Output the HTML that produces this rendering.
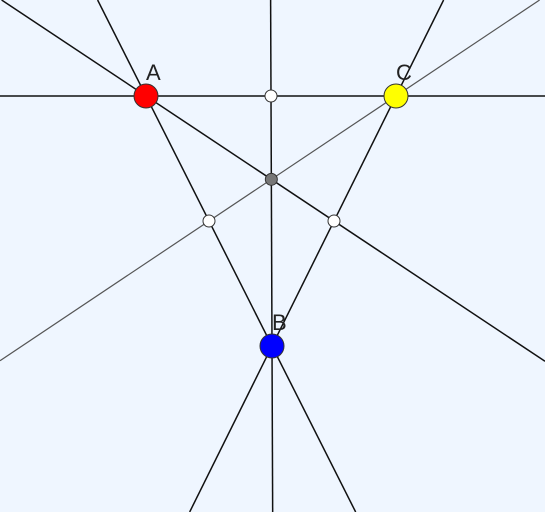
<!DOCTYPE html>
<html><head><meta charset="utf-8"><style>
html,body{margin:0;padding:0;background:#eff6ff;}
svg{display:block}
</style></head><body>
<svg id="fig" width="545" height="512" viewBox="0 0 545 512" font-family="Liberation Sans, sans-serif">
<rect width="545" height="512" fill="#eff6ff"/>
<g id="lines"></g><g id="pts"></g>
</svg>
<script>
const names = ["A","B","C"];
const xs = [146, 272, 396];
const ys = [96, 346, 96];
const colors = ["#ff0000","#0000ff","#ffff00"];
const NS="http://www.w3.org/2000/svg";
const W=545,H=512;
const gL=document.getElementById('lines'), gP=document.getElementById('pts');
function P(i){return [xs[i],ys[i]];}
function mid(i,j){return [(xs[i]+xs[j])/2,(ys[i]+ys[j])/2];}
function clipLine(p,q){
  const dx=q[0]-p[0],dy=q[1]-p[1];let ts=[];
  if(dx!==0){ts.push(-p[0]/dx,(W-p[0])/dx);}
  if(dy!==0){ts.push(-p[1]/dy,(H-p[1])/dy);}
  let pts=ts.map(t=>[p[0]+t*dx,p[1]+t*dy]).filter(a=>a[0]>=-1&&a[0]<=W+1&&a[1]>=-1&&a[1]<=H+1);
  pts.sort((a,b)=>(a[0]-b[0])||(a[1]-b[1]));
  return [pts[0],pts[pts.length-1]];
}
function line(p,q,name,color,w){
  const [a,b]=clipLine(p,q);
  const l=document.createElementNS(NS,'line');
  l.setAttribute('x1',a[0]);l.setAttribute('y1',a[1]);l.setAttribute('x2',b[0]);l.setAttribute('y2',b[1]);
  l.setAttribute('stroke',color);l.setAttribute('stroke-width',w);
  
  
  gL.appendChild(l);
}
line(P(0),P(2),'line-ac','#111',1.5);
line(P(0),P(1),'line-ab','#111',1.5);
line(P(2),P(1),'line-cb','#111',1.5);
line(P(0),mid(1,2),'median-a','#111',1.5);
line(P(2),mid(0,1),'median-c','#555',1.2);
line(P(1),mid(0,2),'median-b','#111',1.5);
function circ(c,r,fill,name){
  const e=document.createElementNS(NS,'circle');
  e.setAttribute('cx',c[0]);e.setAttribute('cy',c[1]);e.setAttribute('r',r);
  e.setAttribute('fill',fill);e.setAttribute('stroke','#333');e.setAttribute('stroke-width',1);
  
  
  gP.appendChild(e);
}
circ(mid(0,2),6,'#fff','midpoint-ac');
circ(mid(0,1),6,'#fff','midpoint-ab');
circ(mid(1,2),6,'#fff','midpoint-bc');
circ([(xs[0]+xs[1]+xs[2])/3,(ys[0]+ys[1]+ys[2])/3],6,'#777','centroid');
for(let i=0;i<3;i++){
  circ(P(i),12,colors[i],'point-'+names[i].toLowerCase());
  const t=document.createElementNS(NS,'text');
  t.setAttribute('x',xs[i]);t.setAttribute('y',ys[i]-16);
  t.setAttribute('font-size',22);t.setAttribute('fill','#222');
  t.textContent=names[i];
  
  
  gP.appendChild(t);
}
</script>
</body></html>
